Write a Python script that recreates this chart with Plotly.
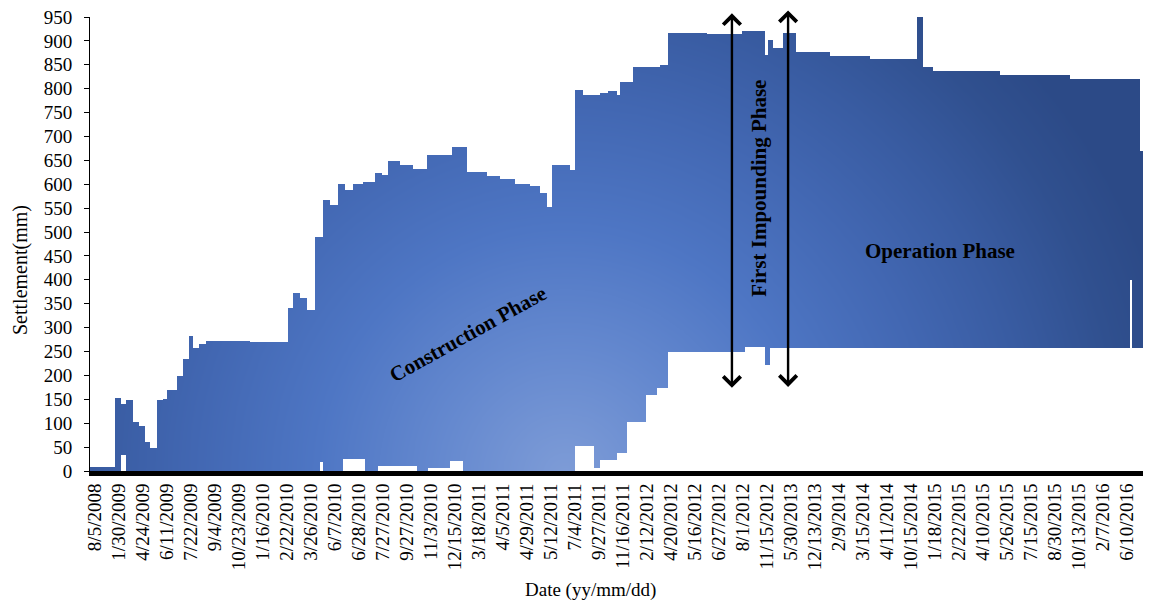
import numpy as np
import plotly.graph_objects as go

# Category positions of the labelled survey dates along the x axis
date_labels = [
    "8/5/2008", "1/30/2009", "4/24/2009", "6/11/2009", "7/22/2009", "9/4/2009",
    "10/23/2009", "1/16/2010", "2/22/2010", "3/26/2010", "6/7/2010", "6/28/2010",
    "7/27/2010", "9/27/2010", "11/3/2010", "12/15/2010", "3/18/2011", "4/5/2011",
    "4/29/2011", "5/12/2011", "7/4/2011", "9/27/2011", "11/16/2011", "2/12/2012",
    "4/20/2012", "5/16/2012", "6/27/2012", "8/1/2012", "11/15/2012", "5/30/2013",
    "12/13/2013", "2/9/2014", "3/15/2014", "4/11/2014", "10/15/2014", "1/18/2015",
    "2/22/2015", "4/10/2015", "5/26/2015", "7/15/2015", "8/30/2015", "10/13/2015",
    "2/7/2016", "6/10/2016",
]

# Upper edge of the settlement band: value (mm) held from each position onward
upper_pos = [
    -0.21, 0.83, 1.08, 1.29, 1.58, 1.83, 2.08, 2.29, 2.58, 2.83, 3.00, 3.42,
    3.67, 3.88, 4.08, 4.33, 4.63, 6.46, 8.04, 8.25, 8.54, 8.83, 9.17, 9.50,
    9.79, 10.13, 10.42, 10.75, 11.17, 11.67, 11.96, 12.21, 12.71, 13.25, 13.83,
    14.88, 15.50, 16.33, 16.88, 17.50, 18.13, 18.54, 18.83, 19.04, 19.79, 20.00,
    20.33, 21.04, 21.38, 21.75, 21.88, 22.42, 23.54, 23.88, 25.50, 26.96, 27.92,
    28.04, 28.25, 28.67, 29.17, 30.63, 32.29, 34.25, 34.50, 34.92, 37.71, 40.63,
    43.54,
]
upper_mm = [
    8, 153, 141, 148, 103, 94, 60, 48, 148, 151, 171, 198,
    235, 282, 258, 266, 273, 271, 342, 372, 362, 336, 490, 568,
    556, 600, 588, 600, 604, 624, 620, 648, 640, 632, 662,
    679, 626, 618, 610, 600, 596, 582, 552, 641, 630, 798,
    786, 792, 796, 786, 815, 846, 850, 917, 914, 920, 871,
    903, 886, 917, 876, 869, 862, 950, 847, 836, 828, 820,
    670,
]

# Lower edge of the settlement band
lower_pos = [
    -0.21, 1.08, 1.29, 9.38, 9.50, 10.33, 11.25, 11.79, 13.42, 13.88, 14.79,
    15.33, 20.00, 20.83, 21.04, 21.75, 22.17, 22.96, 23.42, 23.88, 27.08, 27.92,
    28.13, 43.13, 43.21,
]
lower_mm = [
    0, 35, 0, 18, 0, 26, 0, 10, 0, 6, 20,
    0, 52, 6, 22, 38, 103, 160, 175, 248, 260, 222,
    258, 400, 258,
]

x_end = 43.67
y_max = 950

# Figure geometry
W, H = 1150, 604
margin = dict(l=90, r=7, t=17, b=133)
plot_w = W - margin["l"] - margin["r"]
plot_h = H - margin["t"] - margin["b"]
px_per_x = plot_w / (x_end - upper_pos[0])
px_per_y = plot_h / y_max

# Fine raster of the band so it can carry a radial colour gradient
x_edges = np.linspace(upper_pos[0], x_end, 1101)
y_edges = np.arange(0, y_max + 2, 2.0)
xc = 0.5 * (x_edges[:-1] + x_edges[1:])
yc = 0.5 * (y_edges[:-1] + y_edges[1:])

up = np.asarray(upper_mm, float)[np.searchsorted(upper_pos, xc, side="right") - 1]
lo = np.asarray(lower_mm, float)[np.searchsorted(lower_pos, xc, side="right") - 1]
inside = (yc[:, None] >= lo[None, :]) & (yc[:, None] < up[None, :])

# Radial shading: lightest near the bottom middle, darker towards the edges
cx, cy, radius = 19.6, -10.0, 620.0
dist = np.hypot((xc[None, :] - cx) * px_per_x, (yc[:, None] - cy) * px_per_y) / radius
z = np.where(inside, np.clip(dist, 0, 1), np.nan).astype(np.float32)

shade = [
    [0.00, "#7e9cd7"],
    [0.20, "#6589cf"],
    [0.40, "#4e76c4"],
    [0.60, "#4267b2"],
    [0.75, "#395ca2"],
    [0.90, "#30508f"],
    [1.00, "#2c4a87"],
]

fig = go.Figure()
fig.add_trace(go.Heatmap(
    x=x_edges, y=y_edges, z=z,
    colorscale=shade, zmin=0, zmax=1, showscale=False,
    hoverinfo="skip", zsmooth=False,
))

serif = "Liberation Serif"

fig.update_layout(
    width=W, height=H, margin=margin,
    paper_bgcolor="white", plot_bgcolor="white",
    showlegend=False,
    font=dict(family=serif, color="black", size=19),
    xaxis=dict(
        range=[upper_pos[0], x_end],
        tickmode="array", tickvals=list(range(len(date_labels))), ticktext=date_labels,
        tickangle=-90, ticks="", showgrid=False, zeroline=False,
        showline=True, linewidth=5, linecolor="black",
        tickfont=dict(family=serif, size=19, color="black"),
    ),
    yaxis=dict(
        range=[0, y_max], tick0=0, dtick=50,
        ticks="outside", ticklen=5, tickwidth=1, tickcolor="black",
        ticklabelstandoff=8,
        showgrid=False, zeroline=False,
        showline=True, linewidth=1, linecolor="black",
        tickfont=dict(family=serif, size=19, color="black"),
    ),
)

# Axis titles
fig.add_annotation(xref="paper", yref="paper", x=(20 - margin["l"]) / plot_w,
                   y=(plot_h - 270 + margin["t"]) / plot_h,
                   xanchor="center", yanchor="middle",
                   text="Settlement(mm)", textangle=-90, showarrow=False,
                   font=dict(family=serif, size=20, color="black"))
fig.add_annotation(xref="paper", yref="paper", x=(590 - margin["l"]) / plot_w,
                   y=(plot_h - 590 + margin["t"]) / plot_h,
                   xanchor="center", yanchor="middle",
                   text="Date (yy/mm/dd)", showarrow=False,
                   font=dict(family=serif, size=19, color="black"))

label_font = dict(family=serif, size=21, color="black")
fig.add_annotation(x=15.54, y=287, text="<b>Construction Phase</b>", textangle=-29,
                   showarrow=False, font=label_font)
fig.add_annotation(x=27.63, y=591, text="<b>First Impounding Phase</b>", textangle=-90,
                   showarrow=False, font=label_font)
fig.add_annotation(x=35.21, y=461, text="<b>Operation Phase</b>",
                   showarrow=False, font=label_font)

# Double-headed arrows bracketing the first impounding period
for x_arrow, y_low, length in [(26.54, 174, 376), (28.88, 176, 378)]:
    fig.add_annotation(
        x=x_arrow, y=y_low, ax=0, ay=-length, axref="pixel", ayref="pixel",
        text="", showarrow=True, arrowside="end+start",
        arrowhead=4, startarrowhead=4, arrowsize=1.4, startarrowsize=1.4,
        arrowwidth=2.4, arrowcolor="black",
    )

fig.write_html("out.html")
